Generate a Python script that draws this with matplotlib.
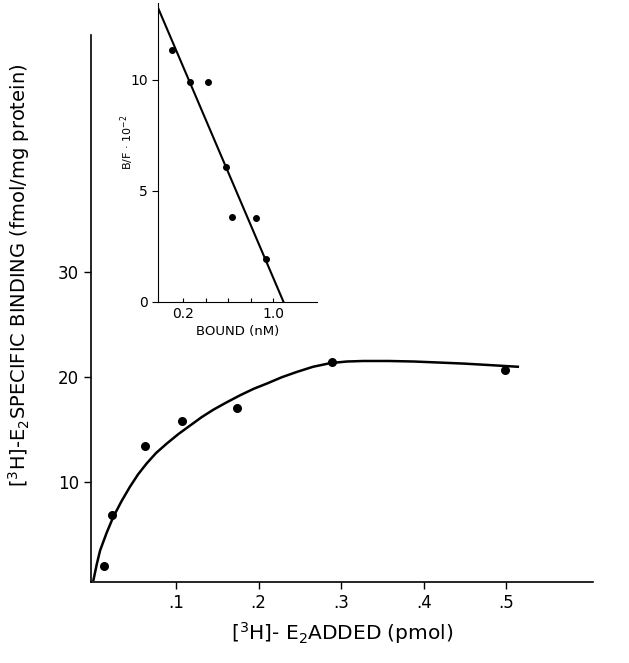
import matplotlib
matplotlib.use("Agg")
import matplotlib.pyplot as plt

plt.rcParams["font.family"] = ["DejaVu Sans"]
plt.rcParams["mathtext.default"] = "regular"

# main saturation data (pmol added vs fmol/mg protein)
added = [0.013, 0.022, 0.062, 0.107, 0.174, 0.289, 0.499]
binding = [2.0, 6.9, 13.5, 15.8, 17.1, 21.5, 20.7]

# hand-drawn curve
curve_x = [0.0, 0.004, 0.008, 0.016, 0.024, 0.034, 0.044, 0.054, 0.0645,
           0.076, 0.089, 0.103, 0.117, 0.131, 0.145, 0.161, 0.178, 0.194,
           0.21, 0.228, 0.246, 0.266, 0.287, 0.307, 0.327, 0.358, 0.388,
           0.419, 0.449, 0.482, 0.514]
curve_y = [0.7, 2.2, 3.5, 5.2, 6.7, 8.2, 9.55, 10.75, 11.8,
           12.8, 13.7, 14.6, 15.4, 16.2, 16.9, 17.6, 18.3, 18.9,
           19.4, 20.0, 20.5, 21.0, 21.35, 21.5, 21.55, 21.55, 21.5,
           21.4, 21.3, 21.15, 21.0]

x_ticks = [0.1, 0.2, 0.3, 0.4, 0.5]
x_labels = [".1", ".2", ".3", ".4", ".5"]
y_ticks = [10, 20, 30]

# Scatchard inset
bound = [0.102, 0.26, 0.418, 0.581, 0.632, 0.846, 0.936]
bf = [11.34, 9.88, 9.91, 6.08, 3.83, 3.75, 1.91]
line_x = [-0.023, 1.093]
line_y = [13.2, 0.0]
inset_xticks = [0.2, 0.4, 0.6, 0.8, 1.0]
inset_xlabels = ["0.2", "", "", "", "1.0"]
inset_yticks = [0, 5, 10]

fig = plt.figure(figsize=(6.29, 6.63), dpi=100)

ax = fig.add_axes([0.1447, 0.1222, 0.798, 0.825])
ax.plot(curve_x, curve_y, color="black", linewidth=1.8,
        solid_joinstyle="round")
ax.scatter(added, binding, color="black", s=30, zorder=3)
ax.set_xlim(-0.003, 0.605)
ax.set_ylim(0.5, 52.6)
ax.spines["top"].set_visible(False)
ax.spines["right"].set_visible(False)
ax.spines["left"].set_linewidth(1.2)
ax.spines["bottom"].set_linewidth(1.2)
ax.set_xticks(x_ticks)
ax.set_xticklabels(x_labels)
ax.set_yticks(y_ticks)
ax.tick_params(direction="out", length=5, width=1, labelsize=12)
ax.set_xlabel("[$^3$H]- E$_2$ADDED (pmol)", fontsize=14.5, labelpad=6)
ax.set_ylabel("[$^3$H]-E$_2$SPECIFIC BINDING (fmol/mg protein)",
              fontsize=14)
ax.yaxis.set_label_coords(-0.118, 0.561)

ins = fig.add_axes([0.2517, 0.545, 0.2518, 0.4505])
ins.plot(line_x, line_y, color="black", linewidth=1.5)
ins.scatter(bound, bf, color="black", s=16, zorder=3)
ins.set_xlim(-0.023, 1.39)
ins.set_ylim(0, 13.45)
ins.spines["top"].set_visible(False)
ins.spines["right"].set_visible(False)
ins.set_xticks(inset_xticks)
ins.set_xticklabels(inset_xlabels)
ins.set_yticks(inset_yticks)
ins.tick_params(axis="x", direction="in", length=3, labelsize=10)
ins.tick_params(axis="y", direction="out", length=4, labelsize=10)
ins.set_xlabel("BOUND (nM)", fontsize=9.5, labelpad=3)
ins.set_ylabel("B/F · 10$^{-2}$", fontsize=8)
ins.yaxis.set_label_coords(-0.14, 0.535)

fig.savefig("out.png", dpi=100)
